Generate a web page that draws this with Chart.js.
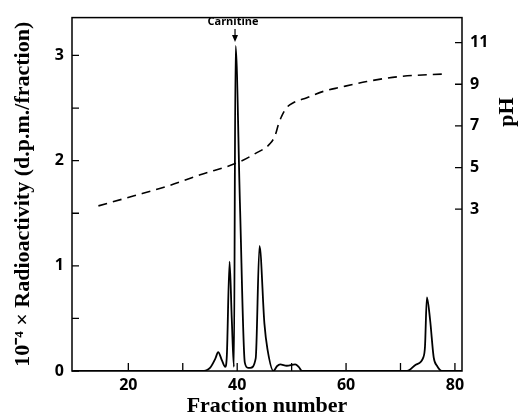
<!DOCTYPE html>
<html>
<head>
    <title>Radioactivity and pH vs. Fraction number</title>
    <script src="https://cdn.jsdelivr.net/npm/chart.js"></script>
    <style>
        body { margin: 0; background: #fff; }
    </style>
</head>
<body>
    <canvas id="myChart" width="520" height="420"></canvas>
    <script>
        // Radioactivity trace (10^-4 x d.p.m./fraction)
        const fraction = [10, 33.5, 35, 36, 36.5, 37.2, 37.8, 38.1, 38.6, 39.0, 39.4, 39.7, 40.5, 41.4, 42.0, 42.4, 43.4, 44.1, 45.0, 45.55, 46.65, 47.3, 47.9, 49.1, 50.65, 51.3, 51.9, 71.2, 72.8, 74.2, 74.5, 74.85, 75.45, 76.1, 76.7, 77.6, 81.3];
        const radioactivity = [0, 0, 0.03, 0.12, 0.18, 0.1, 0.04, 0.15, 1.04, 0.5, 0.04, 3.09, 1.6, 0.08, 0.03, 0.03, 0.12, 1.19, 0.45, 0.21, 0, 0.045, 0.063, 0.05, 0.063, 0.04, 0, 0, 0.06, 0.13, 0.23, 0.70, 0.48, 0.13, 0.05, 0, 0];

        // pH gradient (dashed)
        const phFraction = [14.5, 20.9, 27.1, 33.2, 40.5, 43.3, 46.05, 46.97, 47.6, 48.2, 49.1, 50.3, 52.8, 55.85, 58.9, 63.8, 69.9, 78.5];
        const phValues = [3.16, 3.63, 4.1, 4.65, 5.28, 5.67, 6.15, 6.54, 7.09, 7.48, 7.88, 8.11, 8.35, 8.66, 8.85, 9.13, 9.37, 9.5];

        // Tick positions
        const xTicks = [20, 30, 40, 50, 60, 70, 80];
        const yTicks = [0, 0.5, 1, 1.5, 2, 2.5, 3];
        const phTicks = [3, 5, 7, 9, 11];

        const carnitineFraction = 39.6;

        const tickFont = { family: 'Open Sans', weight: 'bold', size: 16 };

        // Box, inward ticks, carnitine arrow and pH title
        const framePlugin = {
            id: 'frame',
            afterDraw(chart) {
                const { ctx, chartArea: a, scales } = chart;
                ctx.save();
                ctx.strokeStyle = '#000';
                ctx.lineWidth = 1.5;
                ctx.strokeRect(a.left, a.top, a.right - a.left, a.bottom - a.top);

                ctx.lineWidth = 1.3;
                ctx.beginPath();
                xTicks.forEach(v => {
                    const px = scales.x.getPixelForValue(v);
                    ctx.moveTo(px, a.bottom);
                    ctx.lineTo(px, a.bottom - 8);
                });
                yTicks.forEach(v => {
                    const py = scales.y.getPixelForValue(v);
                    ctx.moveTo(a.left, py);
                    ctx.lineTo(a.left + 7, py);
                });
                phTicks.forEach(v => {
                    const py = scales.y1.getPixelForValue(v);
                    ctx.moveTo(a.right, py);
                    ctx.lineTo(a.right - 7, py);
                });
                ctx.stroke();

                // Carnitine marker
                const cx = scales.x.getPixelForValue(carnitineFraction);
                ctx.fillStyle = '#000';
                ctx.font = 'bold 11px "Open Sans"';
                ctx.textAlign = 'center';
                ctx.textBaseline = 'middle';
                ctx.fillText('Carnitine', cx - 2, 22);
                ctx.lineWidth = 1.2;
                ctx.beginPath();
                ctx.moveTo(cx, 29);
                ctx.lineTo(cx, 40);
                ctx.stroke();
                ctx.beginPath();
                ctx.moveTo(cx - 3, 35);
                ctx.lineTo(cx + 3, 35);
                ctx.lineTo(cx, 42);
                ctx.closePath();
                ctx.fill();

                // pH title
                ctx.translate(507, 112);
                ctx.rotate(-Math.PI / 2);
                ctx.font = 'bold 22px "Liberation Serif"';
                ctx.fillText('pH', 0, 0);
                ctx.restore();
            }
        };

        const ctx = document.getElementById('myChart').getContext('2d');
        new Chart(ctx, {
            type: 'scatter',
            data: {
                datasets: [{
                    label: 'Radioactivity',
                    data: fraction.map((f, i) => ({ x: f, y: radioactivity[i] })),
                    showLine: true,
                    borderColor: '#000',
                    borderWidth: 1.8,
                    pointRadius: 0,
                    cubicInterpolationMode: 'monotone',
                    yAxisID: 'y'
                }, {
                    label: 'pH',
                    data: phFraction.map((f, i) => ({ x: f, y: phValues[i] })),
                    showLine: true,
                    borderColor: '#000',
                    borderWidth: 1.6,
                    borderDash: [9, 6],
                    pointRadius: 0,
                    cubicInterpolationMode: 'monotone',
                    yAxisID: 'y1'
                }]
            },
            options: {
                responsive: false,
                animation: false,
                layout: { padding: { top: 14, left: 0, right: 0, bottom: 0 } },
                plugins: {
                    legend: { display: false },
                    tooltip: { enabled: false }
                },
                scales: {
                    x: {
                        type: 'linear',
                        min: 9.65,
                        max: 81.3,
                        afterBuildTicks: s => { s.ticks = xTicks.map(v => ({ value: v })); },
                        afterFit: s => { s.height = 49; },
                        grid: { display: false, drawTicks: false },
                        border: { display: false },
                        ticks: {
                            color: '#000',
                            font: tickFont,
                            padding: 5,
                            maxRotation: 0,
                            autoSkip: false,
                            callback: v => (v % 20 === 0 ? v : '')
                        },
                        title: {
                            display: true,
                            text: 'Fraction number',
                            color: '#000',
                            font: { family: 'Liberation Serif', weight: 'bold', size: 22 },
                            padding: 0
                        }
                    },
                    y: {
                        position: 'left',
                        min: 0,
                        max: 3.36,
                        afterBuildTicks: s => { s.ticks = yTicks.map(v => ({ value: v })); },
                        afterFit: s => { s.width = 72; },
                        grid: { display: false, drawTicks: false },
                        border: { display: false },
                        ticks: {
                            color: '#000',
                            font: tickFont,
                            padding: 8,
                            autoSkip: false,
                            callback: v => (Number.isInteger(v) ? v : '')
                        },
                        title: {
                            display: true,
                            text: '10⁻⁴ × Radioactivity (d.p.m./fraction)',
                            color: '#000',
                            font: { family: 'Liberation Serif', weight: 'bold', size: 22 },
                            padding: { top: 10, bottom: 0 }
                        }
                    },
                    y1: {
                        position: 'right',
                        min: -4.77,
                        max: 12.2,
                        afterBuildTicks: s => { s.ticks = phTicks.map(v => ({ value: v })); },
                        afterFit: s => { s.width = 58; },
                        grid: { display: false, drawTicks: false },
                        border: { display: false },
                        ticks: {
                            color: '#000',
                            font: tickFont,
                            padding: 8,
                            autoSkip: false
                        }
                    }
                }
            },
            plugins: [framePlugin]
        });
    </script>
</body>
</html>
